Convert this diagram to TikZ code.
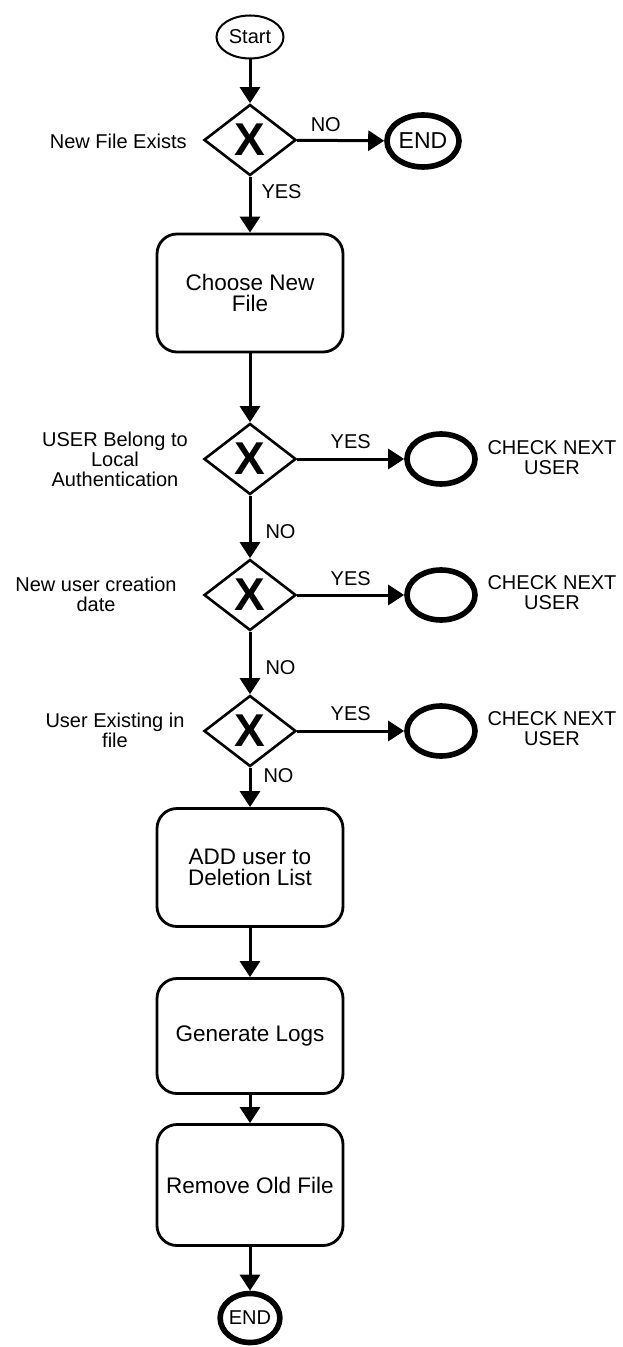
\documentclass[tikz,border=0pt]{standalone}
\usepackage{fontspec}
\setmainfont{Liberation Sans}
\usetikzlibrary{arrows.meta,positioning,shapes.geometric}
\tikzset{
  startev/.style={ellipse, draw=black, line width=1pt, minimum width=33.5pt, minimum height=21.5pt,
                  inner sep=0pt, font=\fontsize{10}{10}\selectfont},
  endev/.style={ellipse, draw=black, line width=2.8pt, minimum width=#1, minimum height=26pt,
                inner sep=0pt, font=\fontsize{11.5}{11.5}\selectfont},
  checkev/.style={ellipse, draw=black, line width=2.8pt, minimum width=34pt, minimum height=25pt, inner sep=0pt},
  gate/.style={diamond, draw=black, line width=1.3pt, minimum width=46pt, minimum height=35.5pt,
               inner sep=0pt, label={[font=\fontsize{23}{23}\selectfont\bfseries]center:X}},
  task/.style={rectangle, draw=black, line width=1.4pt, rounded corners=10pt,
               minimum width=93pt, minimum height=#1, align=center,
               font=\fontsize{11.25}{10.5}\selectfont},
  task/.default=59pt,
  note/.style={align=center, inner sep=0pt, font=\fontsize{10}{10}\selectfont},
  lbl/.style={inner sep=0pt, font=\fontsize{10}{10}\selectfont},
  arr/.style={-{Triangle[length=8pt,width=10pt]}, line width=1.5pt},
}
\begin{document}
\begin{tikzpicture}[x=0.5pt, y=-0.5pt]
  \useasboundingbox (0,0) rectangle (622,1347);
  % main flow
  \node[startev] (start) at (250,37) {Start};
  \node[gate] (g1) at (250,140) {};
  \node[endev=36pt] (end1) at (423,141) {END};
  \node[task] (choose) at (250,293) {Choose New\\File};
  \node[gate] (g2) at (250,459) {};
  \node[gate] (g3) at (250,595) {};
  \node[gate] (g4) at (250,731) {};
  \node[task] (adduser) at (250,867.5) {ADD user to\\Deletion List};
  \node[task=57.5pt] (logs) at (250,1036) {Generate Logs};
  \node[task=60.5pt] (remove) at (250,1185) {Remove Old File};
  \node[endev=29pt, minimum height=24.5pt, font=\fontsize{10}{10}\selectfont] (end2) at (250,1318) {END};
  % side events
  \node[checkev] (c2) at (441,459) {};
  \node[checkev] (c3) at (441,595) {};
  \node[checkev] (c4) at (441,731) {};
  % texts beside the gateways
  \node[note, anchor=east] (q1) at (187,141) {New File Exists};
  \node[note] (q2) at (115,459) {USER Belong to\\Local\\Authentication};
  \node[note] (q3) at (96,594) {New user creation\\date};
  \node[note] (q4) at (115,730) {User Existing in\\file};
  \node[note] (n2) at (552,458) {CHECK NEXT\\USER};
  \node[note] (n3) at (552,593) {CHECK NEXT\\USER};
  \node[note] (n4) at (552,729) {CHECK NEXT\\USER};
  % connectors
  \draw[arr] (start) -- (g1);
  \draw[arr] (g1) -- node[lbl, pos=0.33, anchor=base, yshift=4.5pt] (no1) {NO} (end1);
  \draw[arr] (g1) -- node[lbl, pos=0.27, anchor=west, xshift=5pt] (yes1) {YES} (choose);
  \draw[arr] (choose) -- (g2);
  \draw[arr] (g2) -- node[lbl, midway, anchor=base, yshift=5.5pt] (yes2) {YES} (c2);
  \draw[arr] (g2) -- node[lbl, pos=0.58, anchor=west, xshift=7pt] (no2) {NO} (g3);
  \draw[arr] (g3) -- node[lbl, midway, anchor=base, yshift=5pt] (yes3) {YES} (c3);
  \draw[arr] (g3) -- node[lbl, pos=0.58, anchor=west, xshift=7pt] (no3) {NO} (g4);
  \draw[arr] (g4) -- node[lbl, midway, anchor=base, yshift=5.5pt] (yes4) {YES} (c4);
  \draw[arr] (g4) -- node[lbl, pos=0.2, anchor=west, xshift=6pt] (no4) {NO} (adduser);
  \draw[arr] (adduser) -- (logs);
  \draw[arr] (logs) -- (remove);
  \draw[arr] (remove) -- (end2);
\end{tikzpicture}
\end{document}
